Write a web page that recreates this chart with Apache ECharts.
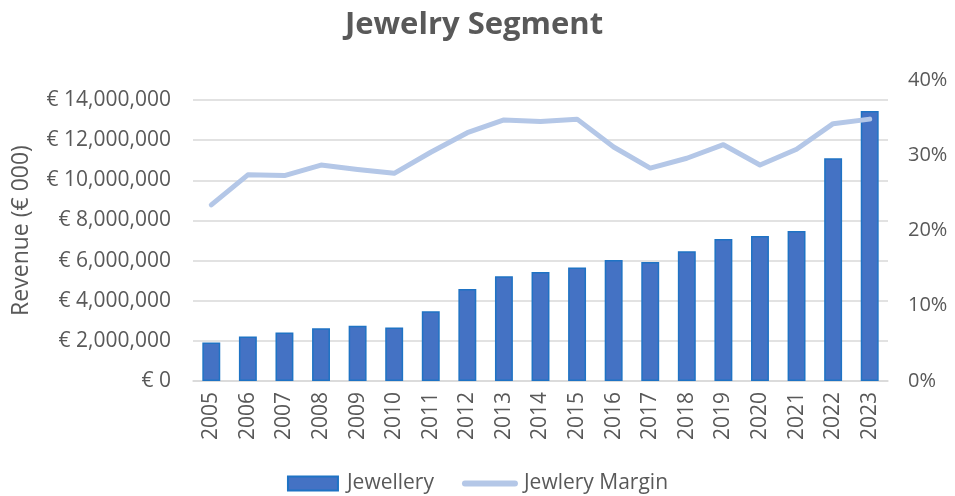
<!DOCTYPE html>
<html>
<head>
<meta charset="utf-8">
<script src="https://cdn.jsdelivr.net/npm/echarts@6/dist/echarts.min.js"></script>
<style>
  html, body { margin: 0; padding: 0; background: #fff; }
  #chart { width: 955px; height: 496px; }
</style>
</head>
<body>
<div id="chart"></div>
<script>
// Jewellery revenue (€ 000) and segment margin by year
const years = ['2005', '2006', '2007', '2008', '2009', '2010', '2011', '2012', '2013', '2014',
               '2015', '2016', '2017', '2018', '2019', '2020', '2021', '2022', '2023'];
const revenue = [1920000, 2220000, 2420000, 2630000, 2750000, 2670000, 3470000, 4580000, 5220000, 5430000,
                 5650000, 6030000, 5930000, 6470000, 7080000, 7230000, 7470000, 11100000, 13450000];
const margin = [0.234, 0.274, 0.273, 0.287, 0.281, 0.276, 0.304, 0.330, 0.347, 0.345,
                0.348, 0.311, 0.283, 0.296, 0.314, 0.287, 0.308, 0.342, 0.348];
const seriesNames = ['Jewellery', 'Jewlery Margin'];

const textColor = '#595959';
const fontFamily = '"Open Sans", "Liberation Sans", sans-serif';
const marginColor = '#B4C7E7';

const chart = echarts.init(document.getElementById('chart'), null, { renderer: 'canvas' });

chart.setOption({
  animation: false,
  backgroundColor: '#ffffff',
  textStyle: { fontFamily: fontFamily, color: textColor },
  title: {
    text: 'Jewelry Segment',
    left: 340,
    top: 5,
    textStyle: { fontFamily: fontFamily, fontSize: 31, fontWeight: 'bold', color: textColor }
  },
  legend: {
    bottom: -3,
    left: 'center',
    itemWidth: 50,
    itemHeight: 14,
    itemGap: 28,
    textStyle: { fontFamily: fontFamily, fontSize: 21, color: textColor, padding: [0, 0, 0, 4] },
    data: [
      { name: seriesNames[0], icon: 'rect' },
      {
        name: seriesNames[1],
        itemStyle: { opacity: 0 },
        lineStyle: { color: marginColor, width: 6, cap: 'round' }
      }
    ]
  },
  grid: { left: 193, right: 67, top: 80, bottom: 115, containLabel: false },
  xAxis: {
    type: 'category',
    data: years,
    axisLine: { show: true, lineStyle: { color: '#d9d9d9', width: 1.5 } },
    axisTick: { show: false },
    axisLabel: { rotate: 90, fontSize: 21, color: textColor, margin: 11, fontFamily: fontFamily }
  },
  yAxis: [
    {
      type: 'value',
      min: 0,
      max: 15000000,
      interval: 2000000,
      name: 'Revenue (€ 000)',
      nameLocation: 'middle',
      nameRotate: 90,
      nameGap: 160,
      nameTextStyle: { fontSize: 23, color: textColor, fontFamily: fontFamily },
      axisLine: { show: false },
      axisTick: { show: false },
      splitLine: { show: true, showMaxLine: false, lineStyle: { color: '#d9d9d9', width: 1.5 } },
      axisLabel: {
        fontSize: 21,
        color: textColor,
        margin: 22,
        showMaxLabel: false,
        fontFamily: fontFamily,
        formatter: v => v >= 15000000 ? '' : '€ ' + v.toLocaleString('en-US')
      }
    },
    {
      type: 'value',
      min: 0,
      max: 0.4,
      interval: 0.1,
      position: 'right',
      axisLine: { show: false },
      axisTick: { show: false },
      splitLine: { show: false },
      axisLabel: {
        fontSize: 20,
        color: textColor,
        margin: 20,
        fontFamily: fontFamily,
        formatter: v => Math.round(v * 100) + '%'
      }
    }
  ],
  series: [
    {
      name: seriesNames[0],
      type: 'bar',
      data: revenue,
      yAxisIndex: 0,
      barWidth: '49%',
      itemStyle: { color: '#4472C4', borderColor: '#1F73C4', borderWidth: 1.5 }
    },
    {
      name: seriesNames[1],
      type: 'line',
      data: margin,
      yAxisIndex: 1,
      symbol: 'none',
      showSymbol: false,
      lineStyle: { color: marginColor, width: 5, cap: 'round', join: 'round' },
      itemStyle: { color: marginColor }
    }
  ]
});
</script>
</body>
</html>
